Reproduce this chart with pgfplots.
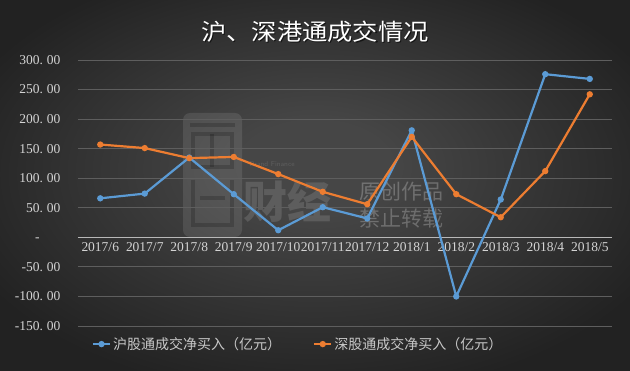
\documentclass[border=0pt]{standalone}
\usepackage{pgfplots}
\pgfplotsset{compat=1.18}
\usepackage{fontspec}
\setmainfont{Liberation Serif}
\newfontfamily\cjk{Noto Sans CJK SC}

\definecolor{bgIn}{HTML}{464646}
\definecolor{bgOut}{HTML}{222222}
\definecolor{gridc}{HTML}{5E5E5E}
\definecolor{tickc}{HTML}{D4D4D4}
\definecolor{legc}{HTML}{C8C8C8}
\definecolor{blueS}{HTML}{5B9BD5}
\definecolor{orangeS}{HTML}{ED7D31}

\pgfdeclareradialshading{bgshade}{\pgfpoint{0bp}{3bp}}{%
  color(0bp)=(bgIn); color(6bp)=(bgIn); color(30bp)=(bgOut); color(50bp)=(bgOut)}

% tick value with a wide decimal point
\newcommand{\dv}[2]{#1.\kern0.3em#2}

\begin{document}
\begin{tikzpicture}[x=1pt,y=1pt]
  \path[use as bounding box] (0,0) rectangle (630,370);
  \fill[shading=bgshade] (0,0) rectangle (630,370);

  % faint watermark
  \fill[white, opacity=0.10, rounded corners=7pt] (183,133) rectangle (242,257);
  \begin{scope}[black, opacity=0.18, line width=4pt]
    \draw (190,245) -- (235,245);
    \draw (193,236) rectangle (232,203);
    \draw (212,236) -- (212,203);
    \draw (193,190) -- (193,145) -- (232,145) -- (232,190);
    \draw (200,172) -- (225,172);
  \end{scope}
  \node[anchor=west, text=white, opacity=0.13, font=\cjk\bfseries\fontsize{44}{46}\selectfont] at (240,168) {财经};
  \node[anchor=west, text=white, opacity=0.13, font=\sffamily\fontsize{7}{8}\selectfont] at (246,206) {Brand Finance};
  \node[anchor=west, text=white, opacity=0.24, font=\cjk\fontsize{21}{23}\selectfont] at (356,178) {原创作品};
  \node[anchor=west, text=white, opacity=0.24, font=\cjk\fontsize{21}{23}\selectfont] at (356,151) {禁止转载};

  % title with shadow
  \node[text=black, opacity=0.6, font=\cjk\fontsize{23}{26}\selectfont] at (316.2,336.8) {\scalebox{1.1}[1]{沪、深港通成交情况}};
  \node[text=white, font=\cjk\fontsize{23}{26}\selectfont] at (315,338) {\scalebox{1.1}[1]{沪、深港通成交情况}};

  \begin{axis}[
    at={(78pt,44pt)}, anchor=south west,
    scale only axis, width=534pt, height=266pt,
    xmin=-0.5, xmax=11.5, ymin=-150, ymax=300,
    xtick={0,...,11},
    xticklabels={2017/6,2017/7,2017/8,2017/9,2017/10,2017/11,2017/12,2018/1,2018/2,2018/3,2018/4,2018/5},
    ytick={-150,-100,-50,0,50,100,150,200,250,300},
    yticklabels={\dv{-150}{00},\dv{-100}{00},\dv{-50}{00},{-\phantom{.\kern0.3em00}},\dv{50}{00},\dv{100}{00},\dv{150}{00},\dv{200}{00},\dv{250}{00},\dv{300}{00}},
    ymajorgrids, grid style={gridc, line width=0.8pt},
    axis line style={draw=none},
    major tick length=0pt,
    tick label style={text=tickc, font=\fontsize{13.5}{15}\selectfont},
    xticklabel style={yshift=85pt, inner sep=1pt},
    yticklabel style={anchor=east, xshift=-14pt},
    clip=false,
    legend columns=2,
    legend style={at={(axis description cs:0.02,-0.068)}, anchor=west,
      draw=none, fill=none, text=legc,
      font=\cjk\fontsize{14}{16}\selectfont,
      /tikz/every even column/.append style={column sep=30pt}},
    legend cell align=left,
  ]
    % zero line
    \addplot[forget plot, no marks, line width=1.2pt, color=white!72!black] coordinates {(-0.5,0) (11.5,0)};

    \addplot[blueS, line width=2.2pt, mark=*, mark size=2pt] coordinates {
      (0,66) (1,74) (2,135) (3,73) (4,12) (5,51)
      (6,32) (7,181) (8,-100) (9,64) (10,276) (11,268)
    };
    \addlegendentry{沪股通成交净买入（亿元）}

    \addplot[orangeS, line width=2.2pt, mark=*, mark size=2pt] coordinates {
      (0,157) (1,151) (2,134) (3,136) (4,107) (5,77)
      (6,56) (7,170) (8,73) (9,34) (10,112) (11,242)
    };
    \addlegendentry{深股通成交净买入（亿元）}
  \end{axis}
\end{tikzpicture}
\end{document}
